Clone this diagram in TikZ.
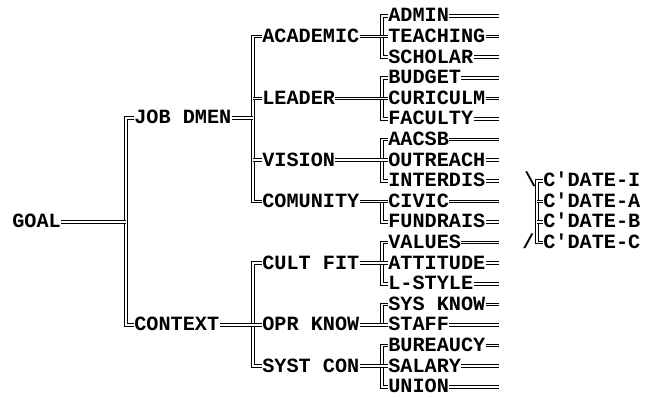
\documentclass[tikz,border=0pt]{standalone}
\usepackage{fontspec}
\setmonofont{Liberation Mono}
\usepackage{tikz}
\usetikzlibrary{positioning,calc}

\begin{document}
\begin{tikzpicture}[
      x=0.02cm, y=-0.02cm,
      lbl/.style={
        anchor=west, inner xsep=0pt, inner ysep=0pt,
        text height=6.8pt, text depth=0pt,
        font=\ttfamily\bfseries\fontsize{11.5}{11.5}\selectfont
      },
      dbl/.style={draw=black, double=white, line width=0.6pt, double distance=0.9pt}
    ]
      \useasboundingbox (0,0) rectangle (649,398);
      % spines of the brackets
      \coordinate (s0) at (126,0);
      \coordinate (s1) at (253,0);
      \coordinate (s2) at (382,0);
      \coordinate (s3) at (537,0);
      \coordinate (tail) at (499,0);
      % root and first level
      \node[lbl] (goal) at (12,222) {GOAL};
      \node[lbl] (jobd) at (134,118) {JOB DMEN};
      \node[lbl] (context) at (134,325) {CONTEXT};
      % second level
      \node[lbl] (academic) at (262,36.6) {ACADEMIC};
      \node[lbl] (leader) at (262,98.4) {LEADER};
      \node[lbl] (vision) at (262,160.2) {VISION};
      \node[lbl] (comunity) at (262,201.4) {COMUNITY};
      \node[lbl] (cultfit) at (262,263.2) {CULT FIT};
      \node[lbl] (oprknow) at (262,325) {OPR KNOW};
      \node[lbl] (systcon) at (262,366.2) {SYST CON};
      % leaves
      \node[lbl] (admin) at (388,16) {ADMIN};
      \node[lbl] (teaching) at (388,36.6) {TEACHING};
      \node[lbl] (scholar) at (388,57.2) {SCHOLAR};
      \node[lbl] (budget) at (388,77.8) {BUDGET};
      \node[lbl] (curiculm) at (388,98.4) {CURICULM};
      \node[lbl] (faculty) at (388,119) {FACULTY};
      \node[lbl] (aacsb) at (388,139.6) {AACSB};
      \node[lbl] (outreach) at (388,160.2) {OUTREACH};
      \node[lbl] (interdis) at (388,180.8) {INTERDIS};
      \node[lbl] (civic) at (388,201.4) {CIVIC};
      \node[lbl] (fundrais) at (388,222) {FUNDRAIS};
      \node[lbl] (values) at (388,242.6) {VALUES};
      \node[lbl] (attitude) at (388,263.2) {ATTITUDE};
      \node[lbl] (lstyle) at (388,283.8) {L-STYLE};
      \node[lbl] (sysknow) at (388,304.4) {SYS KNOW};
      \node[lbl] (staff) at (388,325) {STAFF};
      \node[lbl] (bureaucy) at (388,345.6) {BUREAUCY};
      \node[lbl] (salary) at (388,366.2) {SALARY};
      \node[lbl] (union) at (388,386.8) {UNION};
      % candidates
      \node[lbl] (bsl) at (524,181) {\textbackslash};
      \node[lbl] (sl) at (522,242.6) {/};
      \node[lbl] (cdi) at (543,180.8) {C'DATE-I};
      \node[lbl] (cda) at (543,201.4) {C'DATE-A};
      \node[lbl] (cdb) at (543,222) {C'DATE-B};
      \node[lbl] (cdc) at (543,242.6) {C'DATE-C};

      % root
      \draw[dbl] (jobd.west) -- (jobd.west -| s0) -- (context.west -| s0) -- (context.west);
      \draw[dbl] (goal.east) -- (goal.east -| s0);
      % job dimensions
      \draw[dbl] (academic.west) -- (academic.west -| s1) -- (comunity.west -| s1) -- (comunity.west);
      \draw[dbl] (leader.west -| s1) -- (leader.west);
      \draw[dbl] (vision.west -| s1) -- (vision.west);
      \draw[dbl] (jobd.east) -- (jobd.east -| s1);
      % context
      \draw[dbl] (cultfit.west) -- (cultfit.west -| s1) -- (systcon.west -| s1) -- (systcon.west);
      \draw[dbl] (context.east) -- (oprknow.west);
      % third level brackets
      \draw[dbl] (admin.west) -- (admin.west -| s2) -- (scholar.west -| s2) -- (scholar.west);
      \draw[dbl] (academic.east) -- (teaching.west);
      \draw[dbl] (budget.west) -- (budget.west -| s2) -- (faculty.west -| s2) -- (faculty.west);
      \draw[dbl] (leader.east) -- (curiculm.west);
      \draw[dbl] (aacsb.west) -- (aacsb.west -| s2) -- (interdis.west -| s2) -- (interdis.west);
      \draw[dbl] (vision.east) -- (outreach.west);
      \draw[dbl] (civic.west -| s2) -- (fundrais.west -| s2) -- (fundrais.west);
      \draw[dbl] (comunity.east) -- (civic.west);
      \draw[dbl] (values.west) -- (values.west -| s2) -- (lstyle.west -| s2) -- (lstyle.west);
      \draw[dbl] (cultfit.east) -- (attitude.west);
      \draw[dbl] (sysknow.west) -- (sysknow.west -| s2) -- (staff.west -| s2);
      \draw[dbl] (oprknow.east) -- (staff.west);
      \draw[dbl] (bureaucy.west) -- (bureaucy.west -| s2) -- (union.west -| s2) -- (union.west);
      \draw[dbl] (systcon.east) -- (salary.west);
      % tails of the leaves
      \draw[dbl] (admin.east) -- (admin.east -| tail) (teaching.east) -- (teaching.east -| tail)
        (scholar.east) -- (scholar.east -| tail) (budget.east) -- (budget.east -| tail)
        (curiculm.east) -- (curiculm.east -| tail) (faculty.east) -- (faculty.east -| tail)
        (aacsb.east) -- (aacsb.east -| tail) (outreach.east) -- (outreach.east -| tail)
        (interdis.east) -- (interdis.east -| tail) (civic.east) -- (civic.east -| tail)
        (fundrais.east) -- (fundrais.east -| tail) (values.east) -- (values.east -| tail)
        (attitude.east) -- (attitude.east -| tail) (lstyle.east) -- (lstyle.east -| tail)
        (sysknow.east) -- (sysknow.east -| tail) (staff.east) -- (staff.east -| tail)
        (bureaucy.east) -- (bureaucy.east -| tail) (salary.east) -- (salary.east -| tail)
        (union.east) -- (union.east -| tail);
      % candidate bracket
      \draw[dbl] (cdi.west) -- (cdi.west -| s3) -- (cdc.west -| s3) -- (cdc.west);
      \draw[dbl] (cda.west -| s3) -- (cda.west);
      \draw[dbl] (cdb.west -| s3) -- (cdb.west);
    \end{tikzpicture}
\end{document}
